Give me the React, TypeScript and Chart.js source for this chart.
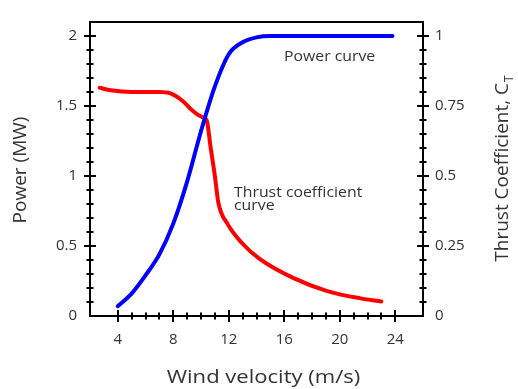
import React, { useEffect, useRef } from "react";
import { Chart, registerables } from "chart.js";

Chart.register(...registerables);

// ---- data ----
const powerSpeeds = [4, 5, 6, 7, 8, 9, 10, 11, 12, 13, 14, 15, 16, 18, 20, 22, 23.8];
const powerValues = [0.07, 0.16, 0.29, 0.44, 0.66, 0.96, 1.32, 1.64, 1.87, 1.955, 1.99, 2.0, 2.0, 2.0, 2.0, 2.0, 2.0];

const thrustSpeeds = [2.7, 3.5, 5, 6, 7, 7.8, 8.7, 9.4, 10.1, 10.4, 10.7, 11.0, 11.25, 11.9, 13, 14.2, 16.6, 19.1, 21.5, 23];
const thrustValues = [0.815, 0.806, 0.8, 0.8, 0.8, 0.795, 0.767, 0.733, 0.71, 0.7, 0.6, 0.5, 0.405, 0.33, 0.258, 0.205, 0.137, 0.089, 0.063, 0.052];

const xTickValues = [4, 8, 12, 16, 20, 24];
const powerTickValues = [0, 0.5, 1, 1.5, 2];
const thrustTickValues = [0, 0.25, 0.5, 0.75, 1];
const thrustTickLabels = ["0", "0.25", "0.5", "0.75", "1"];

const xTitle = "Wind velocity (m/s)";
const leftTitle = "Power (MW)";
const rightTitleMain = "Thrust Coefficient, C";
const rightTitleSub = "T";
const powerNote = "Power curve";
const thrustNote = ["Thrust coefficient", "curve"];

const FONT = '"Open Sans", "Liberation Sans", sans-serif';
const TEXT = "#333333";

function range(from: number, to: number, step: number): number[] {
  const out: number[] = [];
  for (let i = 0; from + i * step <= to + 1e-9; i++) out.push(+(from + i * step).toFixed(4));
  return out;
}

const framePlugin = {
  id: "frameTicks",
  beforeDatasetsDraw(chart: any) {
    const { ctx, chartArea, scales } = chart;
    const { left, right, top, bottom } = chartArea;
    ctx.save();
    ctx.strokeStyle = "#000";
    ctx.lineWidth = 2;
    ctx.strokeRect(left, top, right - left, bottom - top);

    const xs = scales.x, y = scales.y, y1 = scales.y1;
    ctx.lineWidth = 2;
    ctx.beginPath();
    range(4, 24, 1).forEach((v) => {
      const p = Math.round(xs.getPixelForValue(v));
      const major = v % 4 === 0;
      const h = major ? 6 : 3.5;
      ctx.moveTo(p, bottom - h);
      ctx.lineTo(p, bottom + h);
    });
    range(0.1, 2.0, 0.1).forEach((v) => {
      const p = Math.round(y.getPixelForValue(v));
      const major = Math.abs(v * 2 - Math.round(v * 2)) < 1e-6;
      const h = major ? 6 : 3.5;
      ctx.moveTo(left - h, p);
      ctx.lineTo(left + h, p);
    });
    range(0.05, 1.0, 0.05).forEach((v) => {
      const p = Math.round(y1.getPixelForValue(v));
      const major = Math.abs(v * 4 - Math.round(v * 4)) < 1e-6;
      const h = major ? 6 : 3.5;
      ctx.moveTo(right - h, p);
      ctx.lineTo(right + h, p);
    });
    ctx.stroke();
    ctx.restore();
  },
  afterDraw(chart: any) {
    const { ctx, chartArea, scales } = chart;
    const xs = scales.x, y = scales.y, y1 = scales.y1;
    ctx.save();
    ctx.fillStyle = TEXT;
    ctx.textBaseline = "alphabetic";

    ctx.save();
    ctx.font = `19px ${FONT}`;
    ctx.textAlign = "center";
    ctx.translate((chartArea.left + chartArea.right) / 2 + 7, 383);
    ctx.scale(1.16, 1);
    ctx.fillText(xTitle, 0, 0);
    ctx.restore();

    ctx.save();
    ctx.font = `19px ${FONT}`;
    ctx.textAlign = "center";
    ctx.translate(26, (chartArea.top + chartArea.bottom) / 2 + 1);
    ctx.rotate(-Math.PI / 2);
    ctx.fillText(leftTitle, 0, 0);
    ctx.restore();

    ctx.save();
    ctx.textAlign = "left";
    ctx.font = `19px ${FONT}`;
    const w1 = ctx.measureText(rightTitleMain).width;
    ctx.font = `12px ${FONT}`;
    const w2 = ctx.measureText(rightTitleSub).width;
    const total = w1 + w2;
    ctx.translate(508, (chartArea.top + chartArea.bottom) / 2);
    ctx.rotate(-Math.PI / 2);
    ctx.font = `19px ${FONT}`;
    ctx.fillText(rightTitleMain, -total / 2, 0);
    ctx.font = `12px ${FONT}`;
    ctx.fillText(rightTitleSub, -total / 2 + w1 + 1, 5);
    ctx.restore();

    ctx.font = `14px ${FONT}`;
    ctx.textAlign = "left";
    const drawStretched = (s: string, px: number, py: number) => {
      ctx.save();
      ctx.translate(px, py);
      ctx.scale(1.13, 1);
      ctx.fillText(s, 0, 0);
      ctx.restore();
    };
    drawStretched(powerNote, xs.getPixelForValue(15.98), y.getPixelForValue(1.822));
    drawStretched(thrustNote[0], xs.getPixelForValue(12.38), y1.getPixelForValue(0.425));
    drawStretched(thrustNote[1], xs.getPixelForValue(12.38), y1.getPixelForValue(0.377));
    ctx.restore();
  },
};

export default function App() {
  const ref = useRef<HTMLCanvasElement | null>(null);

  useEffect(() => {
    document.body.style.margin = "0";
    const canvas = ref.current;
    if (!canvas) return;

    const chart = new Chart(canvas, {
      type: "line",
      data: {
        datasets: [
          {
            label: "Power",
            data: powerSpeeds.map((s, i) => ({ x: s, y: powerValues[i] })),
            borderColor: "#0000ff",
            borderWidth: 4,
            pointRadius: 0,
            cubicInterpolationMode: "monotone",
            borderCapStyle: "round",
            borderJoinStyle: "round",
            yAxisID: "y",
            fill: false,
          },
          {
            label: "Thrust coefficient",
            data: thrustSpeeds.map((s, i) => ({ x: s, y: thrustValues[i] })),
            borderColor: "#ff0000",
            borderWidth: 4,
            pointRadius: 0,
            cubicInterpolationMode: "monotone",
            borderCapStyle: "round",
            borderJoinStyle: "round",
            yAxisID: "y1",
            fill: false,
          },
        ],
      },
      options: {
        responsive: false,
        animation: false,
        devicePixelRatio: 1,
        layout: { padding: { top: 11, left: 0, right: 0, bottom: 0 } },
        plugins: { legend: { display: false }, tooltip: { enabled: false } },
        scales: {
          x: {
            type: "linear",
            min: 2,
            max: 26,
            grid: { display: false, drawTicks: false },
            border: { display: false },
            afterBuildTicks: (scale: any) => {
              scale.ticks = xTickValues.map((v) => ({ value: v }));
            },
            afterFit: (scale: any) => {
              scale.height = 73;
            },
            ticks: {
              font: { family: FONT, size: 15 },
              color: TEXT,
              padding: 15,
              maxRotation: 0,
              autoSkip: false,
            },
          },
          y: {
            type: "linear",
            position: "left",
            min: 0,
            max: 2.1,
            grid: { display: false, drawTicks: false },
            border: { display: false },
            afterBuildTicks: (scale: any) => {
              scale.ticks = powerTickValues.map((v) => ({ value: v }));
            },
            afterFit: (scale: any) => {
              scale.width = 90;
            },
            ticks: {
              font: { family: FONT, size: 15 },
              color: TEXT,
              padding: 13,
              autoSkip: false,
              callback: (v: any) => String(v),
            },
          },
          y1: {
            type: "linear",
            position: "right",
            min: 0,
            max: 1.05,
            grid: { display: false, drawTicks: false },
            border: { display: false },
            afterBuildTicks: (scale: any) => {
              scale.ticks = thrustTickValues.map((v) => ({ value: v }));
            },
            afterFit: (scale: any) => {
              scale.width = 95;
            },
            ticks: {
              font: { family: FONT, size: 15 },
              color: TEXT,
              padding: 12,
              autoSkip: false,
              callback: (v: any, i: number) => thrustTickLabels[i],
            },
          },
        },
      },
      plugins: [framePlugin],
    } as any);

    return () => chart.destroy();
  }, []);

  return (
    <div style={{ width: 518, height: 389 }}>
      <canvas ref={ref} width={518} height={389} style={{ display: "block" }} />
    </div>
  );
}
